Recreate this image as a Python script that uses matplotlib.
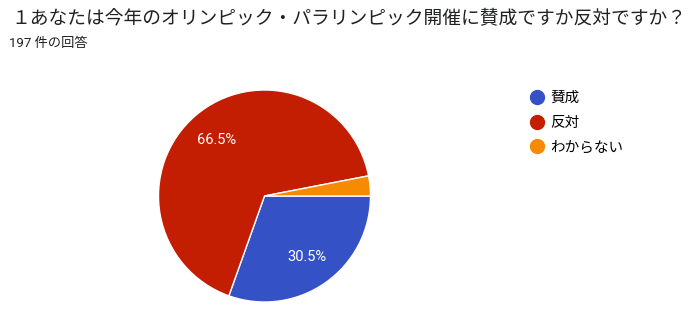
import matplotlib.pyplot as plt
from matplotlib.lines import Line2D

plt.rcParams['font.family'] = ['Roboto', 'Noto Sans CJK JP', 'DejaVu Sans']

# --- data
title = "１あなたは今年のオリンピック・パラリンピック開催に賛成ですか反対ですか？"
subtitle = "197 件の回答"
labels = ["賛成", "反対", "わからない"]
counts = [60, 131, 6]
colors = ["#3551c6", "#c41e02", "#f68a00"]

fig = plt.figure(figsize=(7, 3.13), dpi=100)

fig.text(11 / 700, 1 - 19 / 313, title, fontsize=13.5, va="center", ha="left",
         color="#202124", family=["Noto Sans CJK JP", "DejaVu Sans"])
fig.text(9 / 700, 1 - 44 / 313, subtitle, fontsize=9.5, va="center", ha="left",
         color="#202124")

# pie: center ~ (264.5, 196) px, radius ~106 px
r = 106
ax = fig.add_axes([(264.5 - r) / 700, (313 - 196 - r) / 313, 2 * r / 700, 2 * r / 313])


def pct(p):
    return f"{p:.1f}%" if p > 5 else ""


wedges, texts, autotexts = ax.pie(
    counts, colors=colors, startangle=0, counterclock=False,
    autopct=pct, pctdistance=0.7,
    wedgeprops=dict(edgecolor="white", linewidth=1),
    textprops=dict(color="white", fontsize=10.5),
)
ax.set_xlim(-1, 1)
ax.set_ylim(-1, 1)
ax.axis("off")

handles = [Line2D([], [], marker="o", linestyle="none", markersize=10,
                  markerfacecolor=c, markeredgecolor=c) for c in colors]
fig.legend(handles, labels, loc="upper left", bbox_to_anchor=(515 / 700, 1 - 78 / 313),
           frameon=False, fontsize=10.5, handletextpad=0.3, labelspacing=0.72,
           handlelength=1.2)

fig.savefig("out.png", dpi=100, facecolor="white")
